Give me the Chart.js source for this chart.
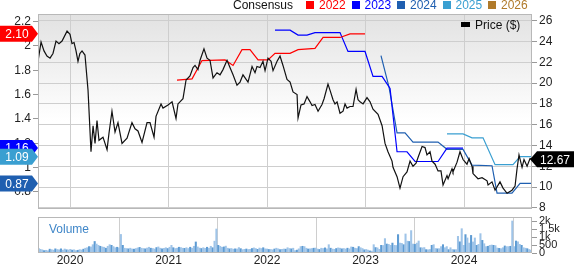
<!DOCTYPE html>
<html>
<head>
<meta charset="utf-8">
<script src="https://cdn.jsdelivr.net/npm/chart.js@4.4.1/dist/chart.umd.min.js"></script>
<style>
  html, body { margin: 0; padding: 0; background: #fff; }
  #wrap { position: relative; width: 574px; height: 265px; overflow: hidden;
          font-family: "Liberation Sans", Arial, sans-serif; color: #111; }
  #priceChart { position: absolute; left: 0; top: 0; }
  #volChart { position: absolute; left: 0; top: 205px; }
  .lg { position: absolute; top: -1px; font-size: 12px; line-height: 12px; white-space: nowrap; }
  .box { position: absolute; top: 1px; width: 8px; height: 8px; }
  #priceKey { position: absolute; left: 461px; top: 22px; width: 9px; height: 5px; background: #000; }
  #priceTxt { position: absolute; left: 475px; top: 19px; font-size: 12px; line-height: 12px; }
  #volTxt { position: absolute; left: 49px; top: 223px; font-size: 12px; line-height: 12px; color: #3f86c8; }
</style>
</head>
<body>
<div id="wrap">
  <canvas id="priceChart" width="574" height="218"></canvas>
  <canvas id="volChart" width="574" height="60"></canvas>
  <div id="legend"></div>
  <div id="priceKey"></div>
  <div id="priceTxt">Price ($)</div>
  <div id="volTxt">Volume</div>
</div>
<script>
// axis ticks
const yearTicks = [2020, 2021, 2022, 2023, 2024];
const epsTicks = [0.8, 1, 1.2, 1.4, 1.6, 1.8, 2, 2.2];
const priceTicks = [8, 10, 12, 14, 16, 18, 20, 22, 24, 26];
const volTicks = [0, 500, 1000, 1500, 2000];

// consensus legend
const consensusYears = ['2022', '2023', '2024', '2025', '2026'];
const consensusColors = ['#ff0000', '#0000ff', '#1f5fb0', '#3a9fd1', '#b07a2a'];

// price ($), decimal year
const priceDates = [2019.675,2019.706,2019.736,2019.766,2019.797,2019.827,2019.858,2019.888,2019.919,2019.970,
  2020.0,2020.020,2020.041,2020.061,2020.081,2020.10,2020.122,2020.152,2020.183,2020.213,
  2020.234,2020.254,2020.274,2020.294,2020.335,2020.376,2020.396,2020.426,2020.457,2020.487,
  2020.528,2020.579,2020.629,2020.660,2020.690,2020.731,2020.782,2020.812,2020.853,2020.873,
  2020.924,2020.944,2020.995,2021.036,2021.076,2021.096,2021.147,2021.178,2021.218,2021.249,
  2021.269,2021.299,2021.320,2021.360,2021.391,2021.421,2021.452,2021.492,2021.523,2021.553,
  2021.594,2021.624,2021.655,2021.695,2021.726,2021.756,2021.807,2021.848,2021.878,2021.898,
  2021.929,2021.959,2021.980,2022.010,2022.041,2022.061,2022.102,2022.132,2022.162,2022.203,
  2022.234,2022.264,2022.305,2022.315,2022.345,2022.376,2022.406,2022.437,2022.457,2022.487,
  2022.518,2022.558,2022.579,2022.619,2022.640,2022.670,2022.690,2022.711,2022.741,2022.772,
  2022.792,2022.812,2022.843,2022.873,2022.904,2022.924,2022.944,2022.975,2023.015,2023.046,
  2023.076,2023.127,2023.168,2023.198,2023.228,2023.269,2023.279,2023.320,2023.350,2023.381,
  2023.421,2023.452,2023.482,2023.513,2023.533,2023.574,2023.604,2023.624,2023.655,2023.675,
  2023.706,2023.736,2023.766,2023.787,2023.827,2023.838,2023.878,2023.888,2023.929,2023.959,
  2023.990,2024.030,2024.051,2024.081,2024.091,2024.142,2024.183,2024.234,2024.244,2024.284,
  2024.315,2024.365,2024.396,2024.437,2024.487,2024.518,2024.538,2024.558,2024.589,2024.609,
  2024.640,2024.670,2024.690];
const priceValues = [22.1,23.96,23.1,22.6,22.4,22.85,24.05,23.8,24.05,25.0,
  24.7,23.8,23.9,23.1,22.1,22.85,23.1,22.7,19.3,13.4,
  15.9,14.2,16.4,14.5,14.8,13.6,15.2,17.3,15.3,16.2,
  14.2,14.7,16.2,15.6,15.4,14.3,16.2,16.2,14.8,16.8,
  18.0,17.6,17.9,18.2,16.6,18.0,18.5,20.3,20.7,21.5,
  21.7,21.3,22.2,23.3,22.4,22.2,20.5,21.0,20.8,21.3,
  22.2,21.5,20.8,19.8,20.1,20.8,20.1,21.6,21.0,21.6,
  21.5,22.1,21.2,22.4,22.1,21.2,22.1,22.6,21.7,20.35,
  20.1,19.15,18.9,16.65,17.9,18.0,18.7,18.2,17.85,17.95,
  17.3,17.95,18.5,19.9,19.3,18.4,18.0,18.2,17.1,17.3,
  18.0,17.6,17.75,17.75,19.4,18.4,18.2,18.0,18.6,18.2,
  17.5,17.0,15.9,14.2,13.4,12.5,11.9,11.0,9.9,11.0,
  11.45,12.5,12.0,12.3,12.85,13.9,13.8,13.1,13.4,12.5,
  12.2,11.55,11.55,10.2,11.1,10.8,11.75,11.45,12.4,13.4,
  12.65,12.2,12.75,12.0,11.3,10.8,10.9,10.6,10.2,10.5,
  9.7,10.5,9.9,9.4,9.7,10.1,11.75,13.1,11.9,12.65,
  12.0,12.75,12.67];

// EPS consensus per fiscal year
const eps2022Dates = [2021.086,2021.239,2021.340,2021.574,2021.655,2021.746,2021.827,2021.909,2022.010,2022.081,2022.234,2022.315,2022.487,2022.569,2022.741,2022.843,2022.995];
const eps2022 = [1.72,1.73,1.88,1.885,1.84,1.97,1.97,1.885,1.885,1.94,1.94,1.97,1.98,2.07,2.07,2.10,2.10];
const eps2023Dates = [2022.081,2022.234,2022.315,2022.406,2022.487,2022.741,2022.822,2022.995,2023.076,2023.168,2023.249,2023.320,2023.421,2023.503,2023.736,2023.827,2023.990];
const eps2023 = [2.13,2.13,2.09,2.09,2.11,2.11,1.955,1.955,1.75,1.75,1.65,1.13,1.13,1.05,1.05,1.16,1.16];
const eps2024Dates = [2023.157,2023.239,2023.320,2023.401,2023.482,2023.736,2023.827,2023.990,2024.081,2024.284,2024.335,2024.487,2024.569,2024.690];
const eps2024 = [1.92,1.66,1.285,1.285,1.21,1.21,1.15,1.15,1.02,1.015,0.79,0.79,0.87,0.87];
const eps2025Dates = [2023.827,2023.990,2024.081,2024.193,2024.315,2024.497,2024.569,2024.690];
const eps2025 = [1.277,1.277,1.245,1.245,1.024,1.024,1.09,1.09];

// weekly volume (thousands of shares), first week ~2019.68, last ~2024.68
const volFirst = 2019.68, volLast = 2024.68;
const volume = [280,230,200,150,170,140,240,210,180,260,220,200,260,180,250,200,190,230,
  180,200,150,170,210,190,240,300,330,400,380,520,
  720,560,480,420,380,360,300,420,520,480,400,330,360,320,1160,
  480,300,280,260,300,250,240,280,320,350,300,280,260,310,360,300,280,250,340,380,300,260,290,330,280,360,480,
  330,280,300,360,340,300,290,330,280,360,300,420,690,380,310,280,330,290,360,300,420,330,740,1500,480,
  420,360,380,430,300,260,280,240,260,250,340,270,210,230,250,220,230,280,320,280,230,310,280,330,260,250,220,
  220,200,250,300,260,210,230,250,240,330,280,260,300,150,180,260,400,420,400,300,250,260,280,300,310,250,220,
  300,280,320,260,520,300,250,230,280,320,300,260,280,250,300,260,380,360,300,280,400,330,280,200,220,180,
  130,120,520,340,320,230,480,470,900,560,540,480,620,480,470,1150,620,600,520,1190,740,720,1400,560,540,620,750,
  330,320,340,210,200,220,480,520,280,260,270,400,520,330,400,210,330,220,200,210,1040,700,1520,480,1150,940,620,
  1100,690,940,480,540,1210,790,580,400,420,480,500,480,460,310,290,270,330,440,400,400,420,2000,400,750,700,540,480,330,300,270,220,180];

const xMin = 2019.675, xMax = 2024.69;

Chart.defaults.font.family = '"Liberation Sans", Arial, sans-serif';
Chart.defaults.font.size = 12;
Chart.defaults.color = '#222';

const pts = (xs, ys) => xs.map((x, i) => ({ x: x, y: ys[i] }));
const fixTicks = vals => s => { s.ticks = vals.map(v => ({ value: v })); };

// header legend
const legend = document.getElementById('legend');
legend.innerHTML = '<div class="lg" style="left:233px">Consensus</div>' +
  consensusYears.map((y, i) => {
    const left = 306 + i * 45.5;
    return '<div class="box" style="left:' + left + 'px;background:' + consensusColors[i] + '"></div>' +
      '<div class="lg" style="left:' + (left + 13) + 'px;color:' + consensusColors[i] + '">' + y + '</div>';
  }).join('');

const plotBg = {
  id: 'plotBg',
  beforeDraw(chart, args, opts) {
    const { ctx, chartArea: a } = chart;
    ctx.save();
    if (opts.gradient) {
      const g = ctx.createLinearGradient(0, a.top, 0, a.bottom);
      g.addColorStop(0, '#e2e2e2');
      g.addColorStop(0.55, '#ffffff');
      g.addColorStop(1, '#ffffff');
      ctx.fillStyle = g;
    } else {
      ctx.fillStyle = '#fff';
    }
    ctx.fillRect(a.left, a.top, a.right - a.left, a.bottom - a.top);
    ctx.restore();
  },
  afterDraw(chart) {
    const { ctx, chartArea: a } = chart;
    ctx.save();
    ctx.strokeStyle = '#b8b8b8';
    ctx.lineWidth = 1;
    ctx.strokeRect(Math.round(a.left) + 0.5, Math.round(a.top) + 0.5,
      Math.round(a.right - a.left) - 1, Math.round(a.bottom - a.top) - 1);
    ctx.restore();
  }
};

function leftTag(ctx, y, color, text) {
  ctx.fillStyle = color;
  ctx.beginPath();
  ctx.moveTo(0, y - 8); ctx.lineTo(32, y - 8); ctx.lineTo(38, y);
  ctx.lineTo(32, y + 8); ctx.lineTo(0, y + 8); ctx.closePath();
  ctx.fill();
  ctx.fillStyle = '#fff';
  ctx.textAlign = 'center';
  ctx.textBaseline = 'middle';
  ctx.fillText(text, 17, y + 1);
}

const tags = {
  id: 'tags',
  afterDraw(chart) {
    const ctx = chart.ctx;
    const eps = chart.scales.yEps, price = chart.scales.yPrice;
    ctx.save();
    ctx.font = '12px "Liberation Sans", Arial, sans-serif';
    [[eps2022, 0], [eps2023, 1], [eps2025, 3], [eps2024, 2]].forEach(([s, c]) => {
      const v = s[s.length - 1];
      leftTag(ctx, eps.getPixelForValue(v), consensusColors[c], v.toFixed(2));
    });
    const last = priceValues[priceValues.length - 1];
    const y = price.getPixelForValue(last);
    ctx.fillStyle = '#000';
    ctx.beginPath();
    ctx.moveTo(530, y); ctx.lineTo(537, y - 8); ctx.lineTo(574, y - 8);
    ctx.lineTo(574, y + 8); ctx.lineTo(537, y + 8); ctx.closePath();
    ctx.fill();
    ctx.fillStyle = '#fff';
    ctx.textAlign = 'center';
    ctx.textBaseline = 'middle';
    ctx.fillText(last.toFixed(2), 555, y + 1);
    ctx.restore();
  }
};

const epsLine = (label, xs, ys, color) => ({
  label: label, data: pts(xs, ys), yAxisID: 'yEps', borderColor: color,
  borderWidth: 1.2, pointRadius: 0, tension: 0, fill: false
});

new Chart(document.getElementById('priceChart'), {
  type: 'line',
  data: {
    datasets: [
      { label: 'Price ($)', data: pts(priceDates, priceValues), yAxisID: 'yPrice',
        borderColor: '#111', borderWidth: 1.2, pointRadius: 0, tension: 0, fill: false },
      epsLine('2022', eps2022Dates, eps2022, consensusColors[0]),
      epsLine('2023', eps2023Dates, eps2023, consensusColors[1]),
      epsLine('2024', eps2024Dates, eps2024, consensusColors[2]),
      epsLine('2025', eps2025Dates, eps2025, consensusColors[3])
    ]
  },
  options: {
    responsive: false,
    animation: false,
    layout: { padding: { top: 14, bottom: 1, left: 0, right: 0 } },
    plugins: { legend: { display: false }, tooltip: { enabled: false }, plotBg: { gradient: true } },
    scales: {
      x: {
        type: 'linear', min: xMin, max: xMax,
        afterBuildTicks: fixTicks(yearTicks),
        ticks: { display: false },
        grid: { color: '#cecece', drawTicks: false },
        border: { display: false },
        afterFit: s => { s.height = 0; }
      },
      yEps: {
        position: 'left', min: 0.661, max: 2.263,
        afterBuildTicks: fixTicks(epsTicks),
        ticks: { padding: 2, color: '#222', autoSkip: false, callback: v => String(+v.toFixed(1)) },
        grid: { drawOnChartArea: false, drawTicks: true, tickLength: 5, tickColor: '#999' },
        border: { display: false },
        afterFit: s => { s.width = 38; }
      },
      yPrice: {
        position: 'right', min: 7.91, max: 26.65,
        afterBuildTicks: fixTicks(priceTicks),
        ticks: { padding: 2, color: '#222', autoSkip: false, callback: v => String(v) },
        grid: { color: '#cecece', tickLength: 5, tickColor: '#999' },
        border: { display: false },
        afterFit: s => { s.width = 42; }
      }
    }
  },
  plugins: [plotBg, tags]
});

const volStep = (volLast - volFirst) / (volume.length - 1);
const volData = volume.map((v, i) => ({ x: volFirst + i * volStep, y: v }));

new Chart(document.getElementById('volChart'), {
  type: 'bar',
  data: {
    datasets: [{
      label: 'Volume', data: volData, yAxisID: 'yVol',
      backgroundColor: volume.map((v, i) => (i % 3 === 0 ? '#5d9bd3' : '#9fc4e8')),
      barThickness: 1.4, borderWidth: 0
    }]
  },
  options: {
    responsive: false,
    animation: false,
    layout: { padding: { top: 12, left: 38, right: 0, bottom: 0 } },
    plugins: { legend: { display: false }, tooltip: { enabled: false }, plotBg: { gradient: false } },
    scales: {
      x: {
        type: 'linear', min: xMin, max: xMax, offset: false,
        afterBuildTicks: fixTicks(yearTicks),
        ticks: { padding: 0, color: '#222', maxRotation: 0, autoSkip: false, callback: v => String(v) },
        grid: { color: '#cecece', drawTicks: false },
        border: { display: false },
        afterFit: s => { s.height = 12; }
      },
      yVol: {
        position: 'right', min: 0, max: 2250,
        afterBuildTicks: fixTicks(volTicks),
        ticks: { padding: 2, color: '#222', autoSkip: false, font: { size: 11 },
                 callback: v => (v >= 1000 ? (v / 1000) + 'k' : String(v)) },
        grid: { drawOnChartArea: false, tickLength: 5, tickColor: '#999' },
        border: { display: false },
        afterFit: s => { s.width = 42; }
      }
    }
  },
  plugins: [plotBg]
});
</script>
</body>
</html>
